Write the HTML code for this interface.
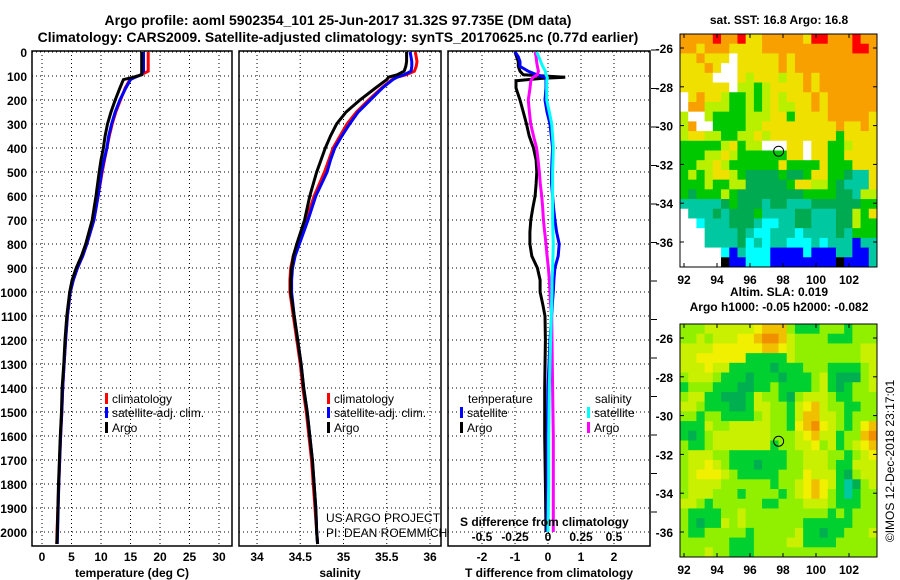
<!DOCTYPE html>
<html><head><meta charset="utf-8"><style>
html,body{margin:0;padding:0;background:#fff;}
svg{display:block;font-family:"Liberation Sans",Arial,sans-serif;}
.b{font-weight:bold;}
</style></head><body>
<svg id="s" width="900" height="580" viewBox="0 0 900 580" xmlns="http://www.w3.org/2000/svg">
<rect width="900" height="580" fill="#fff"/>
<text x="338" y="25" text-anchor="middle" class="b" font-size="14">Argo profile: aoml 5902354_101 25-Jun-2017 31.32S 97.735E (DM data)</text>
<text x="338" y="42" text-anchor="middle" class="b" font-size="14">Climatology: CARS2009. Satellite-adjusted climatology: synTS_20170625.nc (0.77d earlier)</text>
<g id="g"></g>
</svg>
<script>
// ---- profile data ----
const depths = [0,20,40,60,80,95,105,115,150,200,250,300,350,400,450,500,600,700,800,850,900,950,1000,1100,1200,1300,1400,1500,1600,1700,1800,1900,2000,2050];
const tempArgo = [16.9,16.9,16.9,16.9,16.9,16.9,15.5,13.8,13.2,12.4,11.7,11.1,10.7,10.4,10.0,9.7,9.15,8.5,7.4,6.7,5.8,5.1,4.7,4.2,3.9,3.7,3.4,3.3,3.1,2.95,2.8,2.7,2.6,2.5];
const tempSat = [17.2,17.2,17.2,17.2,17.2,16.8,15.8,15.0,14.2,13.2,12.4,11.8,11.3,11.0,10.5,10.1,9.5,8.8,7.6,6.9,6.0,5.3,4.8,4.3,4.0,3.75,3.5,3.35,3.15,3.0,2.85,2.75,2.65,2.6];
const tempClim = [18.0,18.0,18.0,18.0,18.0,16.8,15.7,14.9,14.1,13.3,12.5,11.9,11.4,11.0,10.6,10.2,9.5,8.8,7.6,6.9,6.0,5.3,4.8,4.3,4.0,3.75,3.5,3.35,3.15,3.0,2.85,2.7,2.55,2.5];
const salArgo = [35.73,35.73,35.73,35.72,35.70,35.62,35.52,35.50,35.37,35.19,35.03,34.92,34.85,34.79,34.74,34.69,34.61,34.55,34.46,34.42,34.40,34.39,34.39,34.43,34.47,34.51,34.54,34.58,34.61,34.64,34.66,34.68,34.69,34.70];
const salSat = [35.77,35.78,35.79,35.79,35.78,35.70,35.62,35.57,35.45,35.31,35.17,35.07,34.98,34.90,34.85,34.81,34.68,34.59,34.49,34.44,34.41,34.40,34.40,34.43,34.47,34.51,34.54,34.58,34.61,34.64,34.66,34.68,34.69,34.70];
const salClim = [35.83,35.84,35.85,35.84,35.82,35.72,35.62,35.56,35.44,35.29,35.15,35.04,34.96,34.88,34.83,34.78,34.66,34.57,34.47,34.42,34.39,34.38,34.38,34.42,34.46,34.50,34.53,34.57,34.60,34.63,34.65,34.67,34.69,34.70];
const diffDepths = [0,20,40,60,80,95,105,110,120,150,200,250,300,350,400,450,500,550,600,650,700,750,800,850,900,950,1000,1050,1100,1200,1400,1600,1800,2000];
const dTArgo = [-1.0,-0.95,-0.9,-0.9,-0.85,-0.75,0.52,-0.2,-0.97,-0.97,-0.85,-0.75,-0.65,-0.57,-0.44,-0.36,-0.34,-0.36,-0.39,-0.46,-0.52,-0.55,-0.55,-0.49,-0.32,-0.24,-0.24,-0.16,-0.09,-0.08,-0.1,-0.1,-0.08,-0.06];
const dTSat = [-1.0,-0.9,-0.85,-0.85,-0.6,-0.34,-0.09,-0.06,-0.06,-0.06,-0.09,-0.03,0.06,0.1,0.14,0.12,0.11,0.11,0.14,0.17,0.21,0.26,0.34,0.31,0.21,0.18,0.16,0.13,0.11,0.06,0.0,-0.02,-0.02,-0.03];
const dSArgo = [-0.098,-0.09,-0.086,-0.08,-0.073,-0.08,-0.111,-0.12,-0.13,-0.136,-0.149,-0.141,-0.131,-0.11,-0.086,-0.075,-0.066,-0.058,-0.048,-0.04,-0.035,-0.025,-0.015,-0.007,0.003,0.01,0.015,0.02,0.028,0.03,0.035,0.04,0.04,0.04];
const dSSat = [-0.086,-0.07,-0.055,-0.04,-0.02,-0.015,-0.005,-0.005,-0.01,-0.01,-0.01,0.01,0.028,0.035,0.04,0.038,0.035,0.035,0.035,0.035,0.035,0.037,0.04,0.038,0.035,0.03,0.03,0.028,0.025,0.02,0.01,0.005,0.005,0.0];
const depthTicks = [0,100,200,300,400,500,600,700,800,900,1000,1100,1200,1300,1400,1500,1600,1700,1800,1900,2000];
const tempTicks = [0,5,10,15,20,25,30];
const salTicks = [34,34.5,35,35.5,36];
const salTickLabels = ["34","34.5","35","35.5","36"];
const dTTicks = [-2,-1,0,1,2];
const dSTicks = [-0.5,-0.25,0,0.25,0.5];
const dSTickLabels = ["-0.5","-0.25","0","0.25","0.5"];
// ---- map data (0.5 deg cells, lon 91.76..103.76, lat -25.28..-37.28) ----
const sstRows = [
"OOOOROORYYOOOOOYRROOOROO","OOYOOOYYYYOOOOOOOOOOORRO","YYOYYYWYYYYYOYOOOOOOOOOO","YYYOYWWYYYYYOYOOOOOOOOOO",
"YYYYWWWYLYYYLYYOYOOOOOOO","YYYYYYWLLGLYYYYOYOOOOOOO","WYOYYLGGLGLYLYYYOYOOOOOO","WOOLLLGGLGLYLLYYOYOOOOOO",
"LWWLGGGGLLLYYGYYYYOOOOOY","LOWWGGGGLLYYYYYYYYYOYYOY","LYYLLGGLLYLYYYYYYYYGYYYY","GGGGGLYGLLWWWYYWYYGGLYYY",
"GGGLLYLGGGGGGYYWYYGGYYYY","GGLLYLGGGGGGYGGGGYGGGYYY","GLGLYYLGDDDDGDDGYYGGDTTY","GGGLGGLLDDDDDGYYLLGDTTTY",
"GDGGGLGDDDDDDDDGGGGDDTLL","TTTTTDGDDDTDDTTTDDDDDDGG","WTTTDTDDDGTTTTDDTTTDDLGY","WWCTTTDDDTCCTTDDTTTDDLGG",
"WWWTTTTDTCCTTTCTTTTDTGGG","WWWTTTTDCTCTTCCCTCTTTBTT","WWWWWCBTCCCBBBBCBBBTTBBT","WWWWWKBBCCCBBBBBBBBKBBBT"];
const slaRows = [
"333444444566632223332333","334344455677643333222333","444455555566543333333344","445555552222243333333344",
"444544222221222333222234","344432221222122234211134","233322211223222234212334","344221112433213444322333",
"443222112443324564332233","332332222343324664432333","222433444443325675432356","212344444443334564423367",
"322344444442334453423456","344433222222233444332345","344543222122233444322444","345554322222333544421344",
"344443333332334565420134","344433323333234565320233","443233333322333444322233","322223343333333333232333",
"321224343333333222222333","322333332333334221223334","333333222333344222233333","333433222333333333333333"];
const latTicks = [-26,-28,-30,-32,-34,-36];
const lonTicks = [92,94,96,98,100,102];
const argoLon = 97.735, argoLat = -31.32;

const NS="http://www.w3.org/2000/svg";
const G=document.getElementById('g');
function mk(tag,attrs,parent){const e=document.createElementNS(NS,tag);for(const k in attrs)e.setAttribute(k,attrs[k]);(parent||G).appendChild(e);return e;}
function txt(x,y,s,size,anchor,bold,parent){const t=mk('text',{x:x,y:y,'font-size':size,'text-anchor':anchor||'start'},parent);if(bold)t.setAttribute('font-weight','bold');t.textContent=s;return t;}

const yD = d => 52 + d*0.24;
const PT=51, PB=546;
const panels = {
  temp:{l:32,r:232,x:v=>42+5.9*v},
  sal:{l:239,r:441,x:v=>257+86.5*(v-34)},
  diff:{l:448,r:650,x:v=>548+33*v},
};
const xS = v=>548+132*v;

// clip paths
const defs=mk('defs',{});
for(const k in panels){const p=panels[k];const c=mk('clipPath',{id:'clip-'+k},defs);mk('rect',{x:p.l,y:PT,width:p.r-p.l,height:PB-PT},c);}

function panelFrame(k,name,xt,xtLabels,xtitle){
  const p=panels[k];
  const g=mk('g',{});
  
  
  depthTicks.forEach(d=>{const l=mk('line',{x1:p.l,x2:p.r,y1:yD(d),y2:yD(d),stroke:'#000','stroke-width':1,'stroke-dasharray':'1,3'},g);});
  xt.forEach((v,i)=>{const x=p.x(v);const l=mk('line',{x1:x,x2:x,y1:PT,y2:PB,stroke:'#000','stroke-width':1,'stroke-dasharray':'1,3'},g);
    const t=txt(x,561,xtLabels[i],12,'middle',true,g);});
  const r=mk('rect',{x:p.l,y:PT,width:p.r-p.l,height:PB-PT,fill:'none',stroke:'#000','stroke-width':1.5},g);
  
  const t=txt((p.l+p.r)/2,577,xtitle,12,'middle',true,g);
  return g;
}
panelFrame('temp','temperature-panel',tempTicks,tempTicks.map(String),'temperature (deg C)');
panelFrame('sal','salinity-panel',salTicks,salTickLabels,'salinity');
panelFrame('diff','difference-panel',dTTicks,dTTicks.map(String),'T difference from climatology');

// depth labels
depthTicks.forEach(d=>{const t=txt(27,yD(d)+5,String(d),12,'end',true);});
// right ticks of diff panel
for(let y=50;y<PB;y+=38.5){const l=mk('line',{x1:651,x2:657,y1:y,y2:y,stroke:'#000','stroke-width':1});}

function line(k,xf,ds,vals,color,name){
  const pts=ds.map((d,i)=>xf(vals[i]).toFixed(1)+','+yD(d).toFixed(1)).join(' ');
  const pl=mk('polyline',{points:pts,fill:'none',stroke:color,'stroke-width':3,'clip-path':'url(#clip-'+k+')','stroke-linejoin':'miter'});
  
  
}
line('temp',panels.temp.x,depths,tempClim,'#ff0000','temp-climatology-line');
line('temp',panels.temp.x,depths,tempSat,'#0000ff','temp-satellite-line');
line('temp',panels.temp.x,depths,tempArgo,'#000','temp-argo-line');
line('sal',panels.sal.x,depths,salClim,'#ff0000','sal-climatology-line');
line('sal',panels.sal.x,depths,salSat,'#0000ff','sal-satellite-line');
line('sal',panels.sal.x,depths,salArgo,'#000','sal-argo-line');
line('diff',panels.diff.x,diffDepths,dTArgo,'#000','dT-argo-line');
line('diff',panels.diff.x,diffDepths,dTSat,'#0000ff','dT-satellite-line');
line('diff',xS,diffDepths,dSArgo,'#ff00ff','dS-argo-line');
line('diff',xS,diffDepths,dSSat,'#00ffff','dS-satellite-line');

function legendItem(x,y,color,label){
  const g=mk('g',{});
  
  
  mk('rect',{x:x,y:y-10,width:3,height:11,fill:color},g);
  txt(x+7,y,label,12,'start',false,g);
}
legendItem(105,403,'#ff0000','climatology');
legendItem(105,417,'#0000ff','satellite-adj. clim.');
legendItem(105,432,'#000','Argo');
legendItem(327,403,'#ff0000','climatology');
legendItem(327,417,'#0000ff','satellite-adj. clim.');
legendItem(327,432,'#000','Argo');
let t;
t=txt(468,403,'temperature',12,'start',false);
t=txt(595,403,'salinity',12,'start',false);
legendItem(460,417,'#0000ff','satellite');
legendItem(460,432,'#000','Argo');
legendItem(587,417,'#00ffff','satellite');
legendItem(587,432,'#ff00ff','Argo');
t=txt(326,522,'US ARGO PROJECT',12,'start',false);t.setAttribute('font-weight','300');
t=txt(326,537,'PI: DEAN ROEMMICH',12,'start',false);
t=txt(460,526,'S difference from climatology',12,'start',true);
dSTicks.forEach((v,i)=>{const tt=txt(xS(v),541,dSTickLabels[i],12,'middle',true);});

// ---- maps ----
const sstColors={O:'#f8a000',R:'#ff0000',Y:'#f0e000',L:'#b8f000',G:'#00c800',D:'#00aa50',T:'#00c8a0',C:'#00ffff',B:'#0000ff',W:'#ffffff',K:'#000000'};
const slaColors=['#00c8a0','#00b050','#00d030','#90f000','#c8f000','#f0f000','#f0c000','#f09000'];
const ML=680, MR=877;
const lonX = lon => 684 + 16.5*(lon-92);
function drawMap(top,rows,colorOf,name,title1,title2){
  const latY = lat => top + 14 + 19.4*(-26-lat);
  const bottom = top+233;
  const g=mk('g',{});
  
  
  const nr=rows.length, nc=rows[0].length;
  const cw=(MR-ML)/nc, ch=(bottom-top)/nr;
  rows.forEach((row,j)=>{for(let i=0;i<nc;i++){
    const c=mk('rect',{x:(ML+i*cw).toFixed(2),y:(top+j*ch).toFixed(2),width:(cw+0.4).toFixed(2),height:(ch+0.4).toFixed(2),fill:colorOf(row[i])},g);
    
    
  }});
  mk('rect',{x:ML,y:top,width:MR-ML,height:bottom-top,fill:'none',stroke:'#000','stroke-width':1},g);
  latTicks.forEach(v=>{const y=latY(v);mk('line',{x1:ML,x2:ML+4,y1:y,y2:y,stroke:'#000'},g);mk('line',{x1:MR,x2:MR-4,y1:y,y2:y,stroke:'#000'},g);
    const tt=txt(673,y+5,String(v),12,'end',true,g);});
  lonTicks.forEach(v=>{const x=lonX(v);mk('line',{x1:x,x2:x,y1:top,y2:top+4,stroke:'#000'},g);mk('line',{x1:x,x2:x,y1:bottom,y2:bottom-4,stroke:'#000'},g);
    const tt=txt(x,bottom+17,String(v),12,'middle',true,g);});
  const m=mk('circle',{cx:lonX(argoLon),cy:latY(argoLat),r:5,fill:'none',stroke:'#000','stroke-width':1},g);
  
  const t1=txt(779,title2?top-28:top-10,title1,12,'middle',true,g);
  if(title2){const t2=txt(779,top-13,title2,12,'middle',true,g);}
}
drawMap(34,sstRows,c=>sstColors[c],'sst-map','sat. SST: 16.8 Argo: 16.8');
drawMap(324,slaRows,c=>slaColors[+c],'sla-map','Altim. SLA: 0.019','Argo h1000: -0.05 h2000: -0.082');
t=txt(0,0,'\u00A9IMOS 12-Dec-2018 23:17:01',12,'middle',false);
t.setAttribute('transform','translate(894,461) rotate(-90)');

</script>
</body></html>
